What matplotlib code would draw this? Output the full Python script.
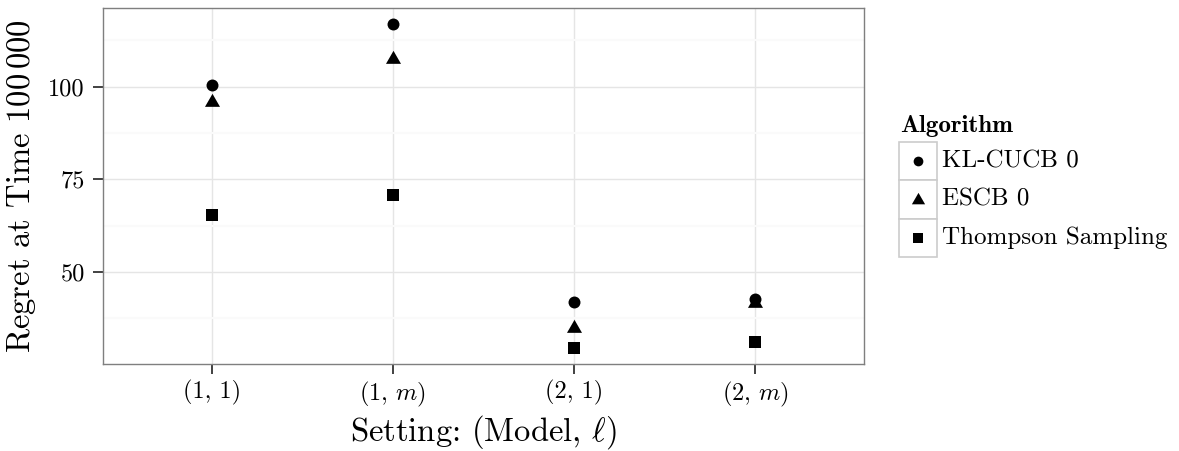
import matplotlib
matplotlib.use("Agg")
import matplotlib.pyplot as plt
from matplotlib.ticker import MultipleLocator, AutoMinorLocator
from matplotlib.patches import Rectangle

plt.rcParams['font.family'] = 'cmr10'
plt.rcParams['mathtext.fontset'] = 'cm'
plt.rcParams['axes.unicode_minus'] = False

# data
settings = ['(1, 1)', '(1, $m$)', '(2, 1)', '(2, $m$)']
algorithms = ['KL-CUCB 0', 'ESCB 0', 'Thompson Sampling']
kl_cucb = [100.5, 116.9, 42.0, 42.6]
escb = [95.8, 107.5, 34.9, 41.7]
thompson = [65.4, 70.8, 29.5, 31.1]

# triangle centred on its centroid, like R's pch 17
tri = [(0, 1), (-0.866, -0.5), (0.866, -0.5), (0, 1)]
markers = ['o', tri, 's']
sizes = [8.6, 12.5, 8.6]
key_sizes = [7.0, 11.0, 7.5]

W, H = 1179, 451
fig = plt.figure(figsize=(W / 100, H / 100), dpi=100)
ax = fig.add_axes([103 / W, 1 - 364 / H, (864 - 103) / W, (364 - 8) / H])

x = list(range(len(settings)))
for vals, mk, ms in zip([kl_cucb, escb, thompson], markers, sizes):
    ax.plot(x, vals, linestyle='none', marker=mk, markersize=ms,
            color='black', markeredgewidth=0, zorder=3)

ax.set_xlim(-0.6, len(settings) - 0.4)
ax.margins(y=0.05)
ax.set_xticks(x)
ax.set_xticklabels(settings)
ax.yaxis.set_major_locator(MultipleLocator(25))
ax.yaxis.set_minor_locator(AutoMinorLocator(2))

ax.grid(which='major', color='#E5E5E5', linewidth=1.0, zorder=0)
ax.grid(which='minor', axis='y', color='#FAFAFA', linewidth=1.5, zorder=0)
ax.set_axisbelow(True)
for sp in ax.spines.values():
    sp.set_color('#7F7F7F')
    sp.set_linewidth(1.0)

ax.tick_params(which='major', length=7.5, width=1.3, color='#333333',
               labelsize=17.5, labelcolor='black')
ax.tick_params(axis='y', pad=5.5)
ax.tick_params(axis='x', pad=4)
ax.tick_params(which='minor', length=0)

ax.set_xlabel(r'Setting: (Model, $\ell$)', fontsize=23.5, va='center')
ax.xaxis.set_label_coords(0.5, (364 - 432) / 356)
ax.set_ylabel(r'Regret at Time 100$\,$000', fontsize=23.5, va='center')
ax.yaxis.set_label_coords((22 - 103) / 761, 0.5)

# legend drawn by hand, ggplot style keys
fig.text(900 / W, 1 - 132 / H, 'Algorithm', fontfamily='cmb10',
         fontsize=18, va='baseline', ha='left')
lax = fig.add_axes([899 / W, 1 - 257 / H, 38 / W, 115 / H])
lax.set_xlim(0, 1)
lax.set_ylim(len(algorithms), 0)
lax.axis('off')
for i, (name, mk, ms) in enumerate(zip(algorithms, markers, key_sizes)):
    lax.add_patch(Rectangle((0, i), 1, 1, facecolor='white',
                            edgecolor='#CCCCCC', linewidth=1.2, clip_on=False))
    lax.plot([0.5], [i + 0.5], marker=mk, markersize=ms, color='black',
             markeredgewidth=0, clip_on=False)
    lax.text(1.13, i + 0.5, name, fontsize=18, va='center', ha='left')

fig.savefig('out.png', dpi=100)
